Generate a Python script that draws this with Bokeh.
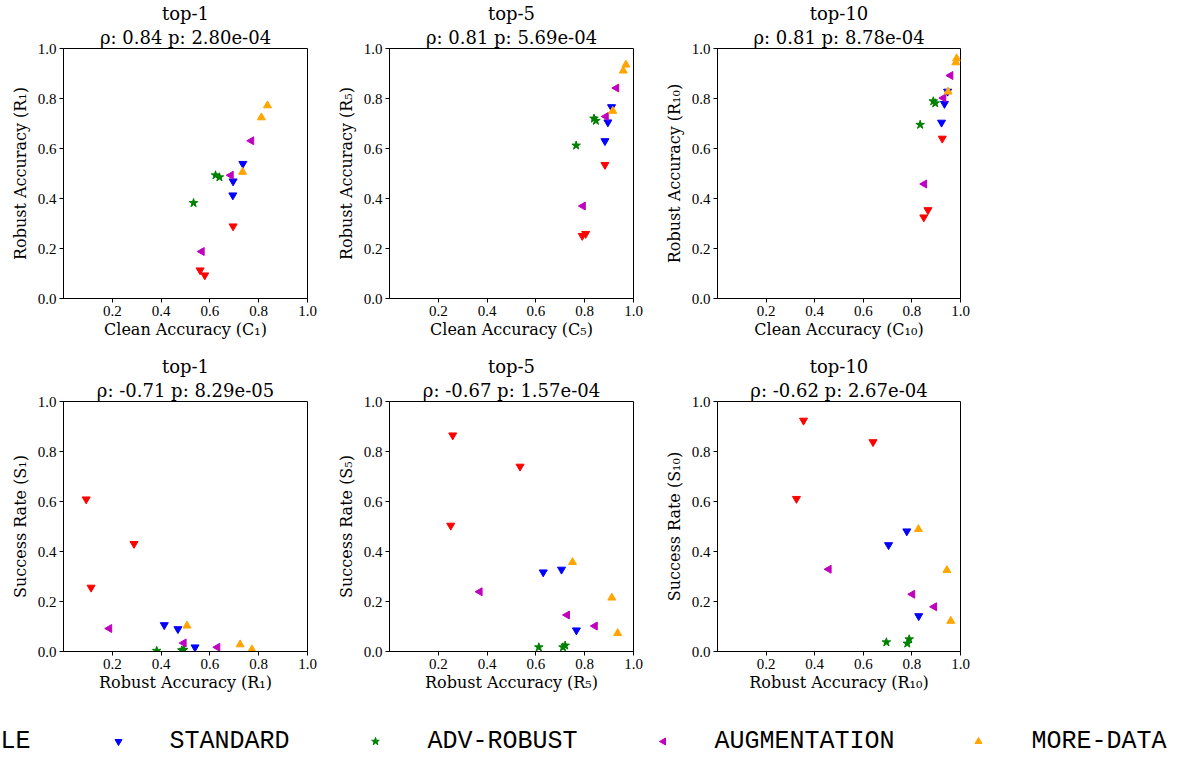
import numpy as np
from bokeh.plotting import figure
from bokeh.layouts import column, row
from bokeh.models import Range1d, FixedTicker, PrintfTickFormatter, Title
from bokeh.core.properties import value
from bokeh.embed import file_html
from bokeh.resources import INLINE

# ---------------- data ----------------
k_labels = ["top-1", "top-5", "top-10"]
k_subs = ["\u2081", "\u2085", "\u2081\u2080"]

rho_clean_robust = [0.84, 0.81, 0.81]
p_clean_robust = ["2.80e-04", "5.69e-04", "8.78e-04"]
rho_robust_success = [-0.71, -0.67, -0.62]
p_robust_success = ["8.29e-05", "1.57e-04", "2.67e-04"]

groups = ["LE", "STANDARD", "ADV-ROBUST", "AUGMENTATION", "MORE-DATA"]

# clean accuracy C_k, robust accuracy R_k, success rate S_k  (k = 1, 5, 10)
le_clean = [[0.579, 0.695, 0.560], [0.790, 0.804, 0.883], [0.849, 0.866, 0.925]]
le_robust = [[0.093, 0.289, 0.113], [0.251, 0.259, 0.535], [0.325, 0.354, 0.640]]
le_success = [[0.609, 0.431, 0.256], [0.504, 0.865, 0.740], [0.611, 0.924, 0.838]]

standard_clean = [[0.694, 0.695, 0.735], [0.883, 0.895, 0.910], [0.922, 0.934, 0.947]]
standard_robust = [[0.413, 0.469, 0.539], [0.630, 0.705, 0.766], [0.704, 0.779, 0.828]]
standard_success = [[0.106, 0.090, 0.017], [0.317, 0.328, 0.085], [0.426, 0.481, 0.142]]

advrobust_clean = [[0.533, 0.639, 0.623], [0.765, 0.846, 0.838], [0.834, 0.896, 0.888]]
advrobust_robust = [[0.382, 0.485, 0.493], [0.612, 0.711, 0.720], [0.695, 0.781, 0.789]]
advrobust_success = [[0.003, 0.005, 0.007], [0.017, 0.017, 0.024], [0.037, 0.032, 0.049]]

augmentation_clean = [[0.567, 0.686, 0.770], [0.793, 0.887, 0.930], [0.851, 0.930, 0.959]]
augmentation_robust = [[0.188, 0.493, 0.631], [0.370, 0.728, 0.842], [0.458, 0.802, 0.892]]
augmentation_success = [[0.092, 0.034, 0.017], [0.239, 0.146, 0.102], [0.329, 0.229, 0.179]]

moredata_clean = [[0.734, 0.811, 0.836], [0.915, 0.958, 0.969], [0.949, 0.981, 0.984]]
moredata_robust = [[0.506, 0.724, 0.772], [0.750, 0.911, 0.935], [0.827, 0.944, 0.960]]
moredata_success = [[0.103, 0.028, 0.008], [0.357, 0.215, 0.073], [0.489, 0.325, 0.122]]

x_ticks = [0.2, 0.4, 0.6, 0.8, 1.0]
y_ticks = [0.0, 0.2, 0.4, 0.6, 0.8, 1.0]

# ---------------- styles ----------------
SERIF = "Liberation Serif"
LABEL_SERIF = "DejaVu Serif"
MONO = "Liberation Mono"
styles = {
    "LE": dict(marker="inverted_triangle", color="#ff0000", angle=0.0),
    "STANDARD": dict(marker="inverted_triangle", color="#0000ff", angle=0.0),
    "ADV-ROBUST": dict(marker="star", color="#008000", angle=0.0),
    "AUGMENTATION": dict(marker="triangle", color="#bf00bf", angle=np.pi / 2),
    "MORE-DATA": dict(marker="triangle", color="#ffa500", angle=0.0),
}
msize = {"inverted_triangle": 8, "triangle": 8, "star": 9}

data = {
    "LE": (le_clean, le_robust, le_success),
    "STANDARD": (standard_clean, standard_robust, standard_success),
    "ADV-ROBUST": (advrobust_clean, advrobust_robust, advrobust_success),
    "AUGMENTATION": (augmentation_clean, augmentation_robust, augmentation_success),
    "MORE-DATA": (moredata_clean, moredata_robust, moredata_success),
}


def make_title(text):
    return Title(text=text, align="center", text_font=LABEL_SERIF, text_font_size="18px",
                 text_font_style="normal", text_color="black", standoff=1,
                 text_line_height=1.0)


def make_panel(line1, line2, xlabel, ylabel, xs, ys, left, right, top, bottom, fw):
    p = figure(frame_width=fw, frame_height=250, output_backend="svg",
               toolbar_location=None, x_range=Range1d(0, 1), y_range=Range1d(0, 1),
               min_border_left=left, min_border_right=right,
               min_border_top=top, min_border_bottom=bottom, title=None)
    p.add_layout(make_title(line2), "above")
    p.add_layout(make_title(line1), "above")
    p.xgrid.visible = False
    p.ygrid.visible = False
    p.outline_line_color = "black"
    p.outline_line_alpha = 1
    p.outline_line_width = 1
    p.xaxis.ticker = FixedTicker(ticks=x_ticks)
    p.yaxis.ticker = FixedTicker(ticks=y_ticks)
    for ax in (p.xaxis[0], p.yaxis[0]):
        ax.formatter = PrintfTickFormatter(format="%.1f")
        ax.major_label_text_font = SERIF
        ax.major_label_text_font_size = "15px"
        ax.major_label_text_color = "black"
        ax.axis_label_text_font = LABEL_SERIF
        ax.axis_label_text_font_size = "16px"
        ax.axis_label_text_font_style = "normal"
        ax.axis_label_text_color = "black"
        ax.axis_line_color = "black"
        ax.major_tick_line_color = "black"
        ax.major_tick_in = 0
        ax.major_tick_out = 4
        ax.minor_tick_line_color = None
        ax.major_label_standoff = 3
        ax.axis_label_standoff = 5
    p.xaxis.axis_label_standoff = 1
    p.xaxis.axis_label = xlabel
    p.yaxis.axis_label = ylabel
    for g in groups:
        st = styles[g]
        p.scatter(xs[g], ys[g], marker=st["marker"], size=msize[st["marker"]],
                  angle=st["angle"], fill_color=st["color"], line_color=st["color"])
    return p


borders = [(63, 12), (70, 12), (72, 10)]
fws = [244, 244, 243]

row1 = []
row2 = []
for k in range(3):
    xs_c = {g: data[g][0][k] for g in groups}
    ys_r = {g: data[g][1][k] for g in groups}
    ys_s = {g: data[g][2][k] for g in groups}
    sub = k_subs[k]
    l2a = f"\u03c1: {rho_clean_robust[k]:.2f} p: {p_clean_robust[k]}"
    l2b = f"\u03c1: {rho_robust_success[k]:.2f} p: {p_robust_success[k]}"
    l, r = borders[k]
    row1.append(make_panel(k_labels[k], l2a, f"Clean Accuracy (C{sub})",
                           f"Robust Accuracy (R{sub})", xs_c, ys_r, l, r, 48, 55, fws[k]))
    row2.append(make_panel(k_labels[k], l2b, f"Robust Accuracy (R{sub})",
                           f"Success Rate (S{sub})", ys_r, ys_s, l, r, 48, 60, fws[k]))

# ---------------- legend strip ----------------
LW, LH = 1189, 45
leg = figure(width=LW, height=LH, output_backend="svg", toolbar_location=None,
             x_range=Range1d(0, LW), y_range=Range1d(0, LH),
             min_border=0, min_border_left=0, min_border_right=0,
             min_border_top=0, min_border_bottom=0)
leg.axis.visible = False
leg.grid.visible = False
leg.outline_line_color = None
marker_x = [-150, 118, 375, 663, 978]
text_x = [0, 169, 427, 714, 1031]
leg_y = 15
for i, g in enumerate(groups):
    st = styles[g]
    leg.scatter([marker_x[i]], [leg_y], marker=st["marker"], size=msize[st["marker"]] - 1,
                angle=st["angle"], fill_color=st["color"], line_color=st["color"])
    leg.text([text_x[i]], [leg_y], text=[g], text_font=value(MONO),
             text_font_size="25px", text_baseline="middle", text_align="left",
             text_color="black")

layout = column(row(*row1), row(*row2), leg)
open("out.html", "w").write(file_html(layout, INLINE))
